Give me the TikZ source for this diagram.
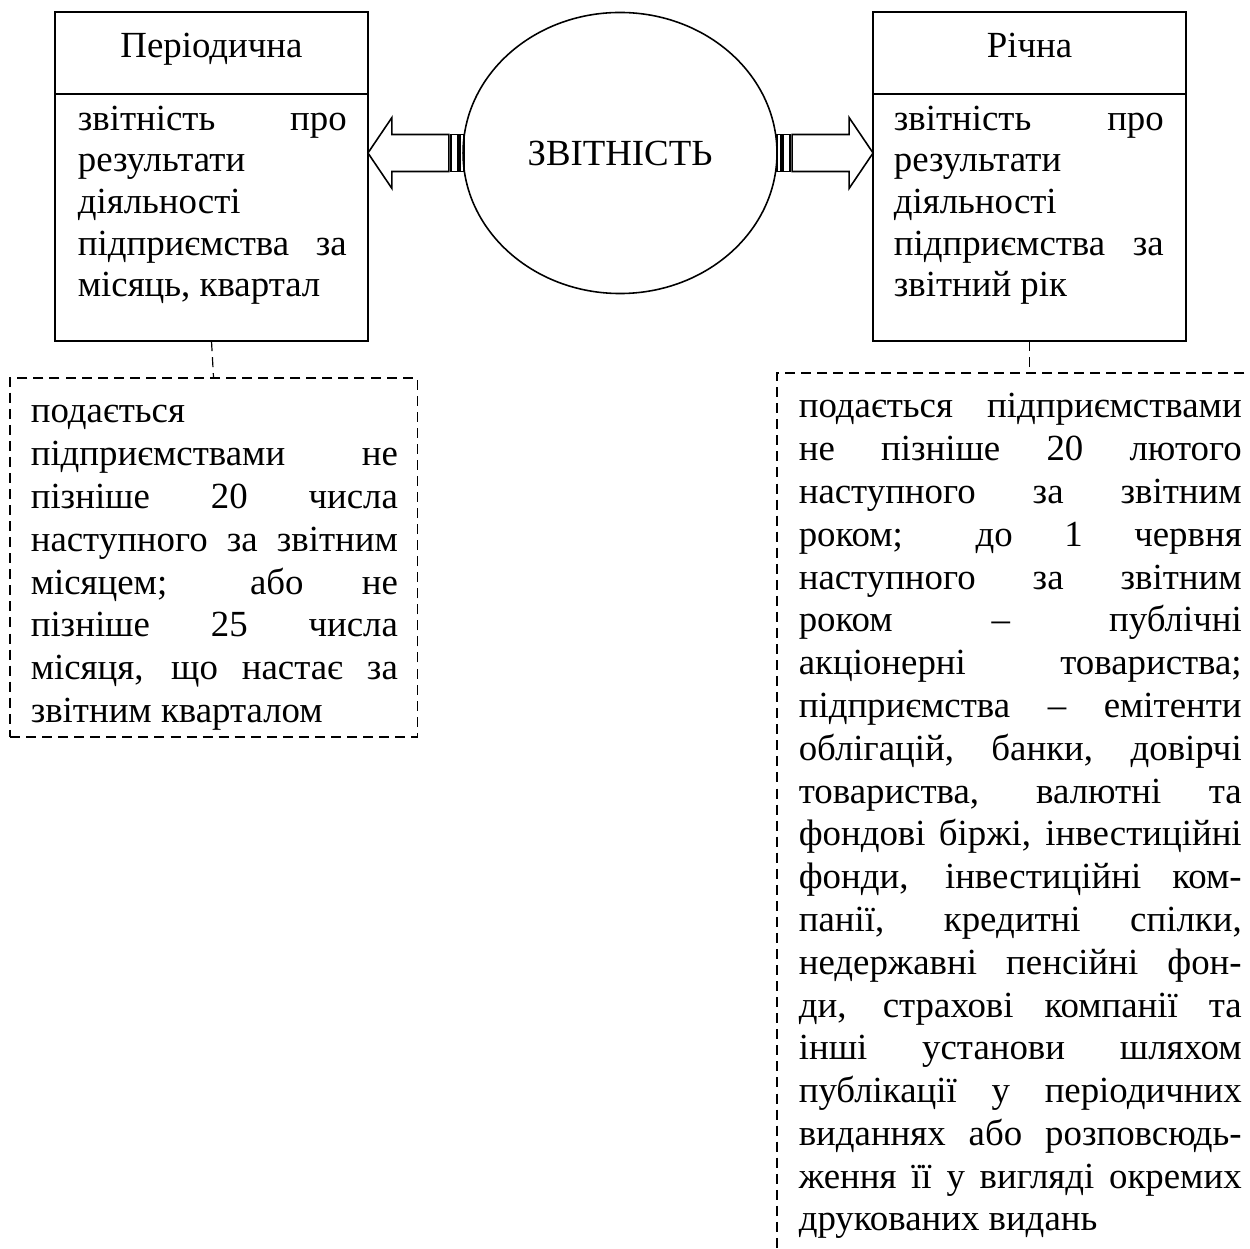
\documentclass[tikz,border=0pt]{standalone}
\usepackage{fontspec}
\setmainfont{Liberation Serif}
\usetikzlibrary{positioning,calc,shapes.geometric}
\hbadness=10000
\begin{document}
\begin{tikzpicture}[x=0.38pt,y=-0.38pt,line width=0.6pt,font=\fontsize{14pt}{15.85pt}\selectfont]
\tikzstyle{box}=[draw,rectangle,minimum width=118.9pt,inner sep=0pt,outer sep=0pt]
\tikzstyle{head}=[box,minimum height=31.2pt,text height=9.8pt,text depth=6pt]
\tikzstyle{txt}=[inner sep=0pt,align=justify,anchor=base west]
\tikzstyle{dbox}=[draw,rectangle,dash pattern=on 3.8pt off 2.3pt,line width=0.45pt,inner sep=0pt,outer sep=0pt,anchor=north west]
\tikzstyle{blockarr}=[draw,line join=miter]
\clip (0,0) rectangle (1250,1249);
% left: periodic reports
\node[head] (pertitle) at (211.5,53) {Періодична};
\node[box,minimum height=93.9pt,below=0pt of pertitle] (perbody) {};
\node[txt,text width=102.2pt] (pertxt) at ($(perbody.north west)+(22,36)$) {звітність про\linebreak результати\linebreak діяльності\linebreak підприємства за\linebreak місяць, квартал};
% right: annual reports
\node[head] (rictitle) at (1029.5,53) {Річна};
\node[box,minimum height=93.9pt,below=0pt of rictitle] (ricbody) {};
\node[txt,text width=102.6pt] (rictxt) at ($(ricbody.north west)+(20,36)$) {звітність про\linebreak результати\linebreak діяльності\linebreak підприємства за\linebreak звітний рік};
% centre
\node[draw,ellipse,minimum width=119.3pt,minimum height=106.8pt,inner sep=0pt] (cen) at (620,153) {ЗВІТНІСТЬ};
% striped block arrows
\coordinate (lt) at (perbody.east |- cen.center);
\coordinate (rt) at (ricbody.west |- cen.center);
\draw[blockarr] (lt) -- ++(24,-35.5) -- ++(0,17) -- ++(57,0) -- ++(0,37) -- ++(-57,0) -- ++(0,17) -- cycle;
\draw[blockarr] ($(lt)+(83,-18.5)$) rectangle ++(7,37) ($(lt)+(92,-18.5)$) rectangle ++(4,37);
\draw[blockarr] (rt) -- ++(-24,-35.5) -- ++(0,17) -- ++(-57,0) -- ++(0,37) -- ++(57,0) -- ++(0,17) -- cycle;
\draw[blockarr] ($(rt)+(-83,-18.5)$) rectangle ++(-7,37) ($(rt)+(-92,-18.5)$) rectangle ++(-4,37);
% dashed notes
\node[dbox,minimum width=154.7pt,minimum height=136.4pt] (perdash) at (10,378) {};
\node[txt,text width=139.5pt,font=\fontsize{14pt}{16.26pt}\selectfont] (perdtxt) at ($(perdash.north west)+(20,45)$) {подається\linebreak підприємствами не\linebreak пізніше 20 числа\linebreak наступного за звітним\linebreak місяцем; або не\linebreak пізніше 25 числа\linebreak місяця, що настає за\linebreak звітним кварталом};
\node[dbox,minimum width=186.2pt,minimum height=342pt] (ricdash) at (777,373) {};
\node[txt,text width=168.3pt,font=\fontsize{14pt}{16.26pt}\selectfont] (ricdtxt) at ($(ricdash.north west)+(21,45)$) {подається підприємствами\linebreak
не пізніше 20 лютого\linebreak
наступного за звітним\linebreak
роком; до 1 червня\linebreak
наступного за звітним\linebreak
роком – публічні\linebreak
акціонерні товариства;\linebreak
підприємства – емітенти\linebreak
облігацій, банки, довірчі\linebreak
товариства, валютні та\linebreak
фондові біржі, інвестиційні\linebreak
фонди, інвестиційні ком-\linebreak
панії, кредитні спілки,\linebreak
недержавні пенсійні фон-\linebreak
ди, страхові компанії та\linebreak
інші установи шляхом\linebreak
публікації у періодичних\linebreak
виданнях або розповсюдь-\linebreak
ження її у вигляді окремих\linebreak
друкованих видань};
\draw[dash pattern=on 3.8pt off 2.3pt,line width=0.45pt] (perbody.south) -- (perdash.north);
\draw[dash pattern=on 3.8pt off 2.3pt,line width=0.45pt] (ricbody.south) -- (ricbody.south |- ricdash.north);
\end{tikzpicture}
\end{document}
